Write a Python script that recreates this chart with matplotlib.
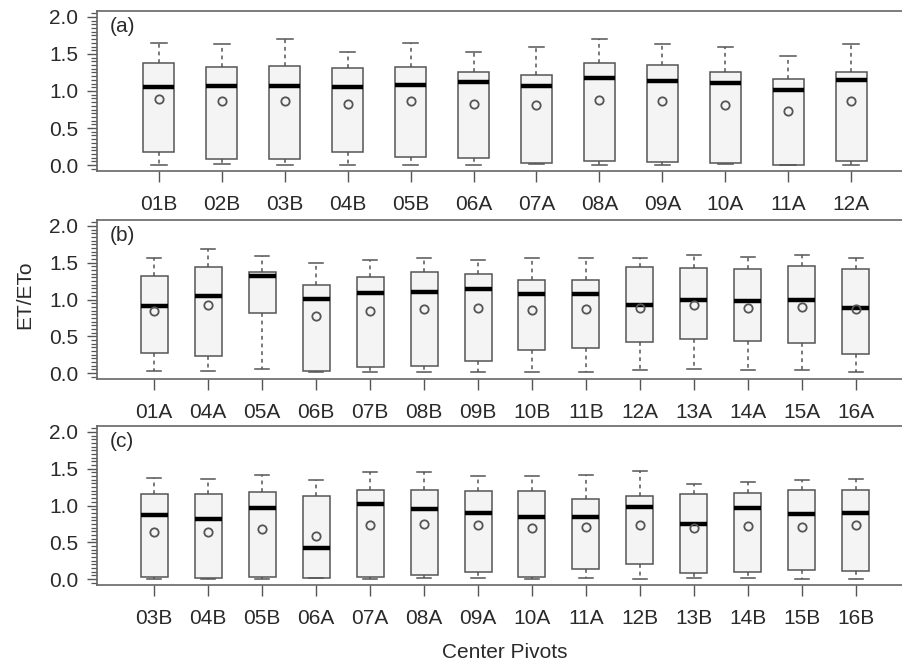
import numpy as np
import matplotlib
matplotlib.use("Agg")
import matplotlib.pyplot as plt
from matplotlib.ticker import MultipleLocator

plt.rcParams["font.family"] = ["Liberation Sans", "DejaVu Sans"]

# Panel (a)
labels_a = ["01B", "02B", "03B", "04B", "05B", "06A", "07A", "08A", "09A", "10A", "11A", "12A"]
lo_a = [0.00, 0.01, 0.00, 0.00, 0.00, 0.00, 0.01, 0.00, 0.00, 0.01, 0.00, 0.00]
q1_a = [0.17, 0.08, 0.08, 0.18, 0.11, 0.10, 0.03, 0.06, 0.04, 0.03, 0.00, 0.06]
med_a = [1.05, 1.07, 1.07, 1.06, 1.08, 1.12, 1.07, 1.17, 1.14, 1.11, 1.01, 1.15]
q3_a = [1.38, 1.33, 1.34, 1.31, 1.33, 1.26, 1.22, 1.38, 1.35, 1.25, 1.16, 1.25]
hi_a = [1.65, 1.63, 1.70, 1.52, 1.65, 1.52, 1.60, 1.70, 1.64, 1.59, 1.47, 1.64]
mean_a = [0.89, 0.87, 0.87, 0.83, 0.87, 0.82, 0.81, 0.88, 0.87, 0.81, 0.73, 0.86]

# Panel (b)
labels_b = ["01A", "04A", "05A", "06B", "07B", "08B", "09B", "10B", "11B",
            "12A", "13A", "14A", "15A", "16A"]
lo_b = [0.03, 0.03, 0.06, 0.01, 0.01, 0.01, 0.01, 0.01, 0.01, 0.04, 0.05, 0.04, 0.04, 0.01]
q1_b = [0.28, 0.23, 0.82, 0.03, 0.08, 0.10, 0.16, 0.32, 0.34, 0.42, 0.46, 0.44, 0.41, 0.26]
med_b = [0.91, 1.05, 1.32, 1.01, 1.09, 1.10, 1.14, 1.07, 1.08, 0.92, 1.00, 0.98, 1.00, 0.89]
q3_b = [1.32, 1.44, 1.38, 1.20, 1.30, 1.37, 1.35, 1.26, 1.27, 1.44, 1.43, 1.42, 1.46, 1.42]
hi_b = [1.56, 1.69, 1.59, 1.49, 1.54, 1.56, 1.54, 1.56, 1.56, 1.57, 1.61, 1.58, 1.60, 1.56]
mean_b = [0.84, 0.93, np.nan, 0.78, 0.85, 0.87, 0.88, 0.86, 0.87, 0.88, 0.92, 0.88, 0.90, 0.87]

# Panel (c)
labels_c = ["03B", "04B", "05B", "06A", "07A", "08A", "09A", "10A", "11A",
            "12B", "13B", "14B", "15B", "16B"]
lo_c = [0.00, 0.00, 0.00, 0.01, 0.00, 0.01, 0.01, 0.00, 0.01, 0.00, 0.01, 0.01, 0.00, 0.00]
q1_c = [0.03, 0.02, 0.03, 0.02, 0.03, 0.05, 0.09, 0.03, 0.14, 0.21, 0.08, 0.10, 0.12, 0.11]
med_c = [0.87, 0.82, 0.97, 0.42, 1.02, 0.95, 0.90, 0.84, 0.84, 0.98, 0.75, 0.96, 0.88, 0.90]
q3_c = [1.16, 1.15, 1.18, 1.13, 1.21, 1.21, 1.20, 1.20, 1.09, 1.13, 1.16, 1.17, 1.21, 1.21]
hi_c = [1.38, 1.36, 1.41, 1.34, 1.45, 1.45, 1.40, 1.40, 1.41, 1.47, 1.29, 1.32, 1.34, 1.36]
mean_c = [0.64, 0.64, 0.68, 0.58, 0.74, 0.75, 0.74, 0.69, 0.71, 0.74, 0.69, 0.72, 0.71, 0.74]

panels = [
    ("(a)", labels_a, lo_a, q1_a, med_a, q3_a, hi_a, mean_a),
    ("(b)", labels_b, lo_b, q1_b, med_b, q3_b, hi_b, mean_b),
    ("(c)", labels_c, lo_c, q1_c, med_c, q3_c, hi_c, mean_c),
]

W, H = 903, 664
fig = plt.figure(figsize=(W / 100, H / 100), dpi=100)

# axes rectangles in pixels: (top, bottom); right edge runs past the figure
rows = [(11, 171), (220, 379), (426, 585)]
left_px, right_px = 97, 913

fs = 15
txt = "#2a2a2a"
grey = "#555555"
for (tag, labels, lo, q1, med, q3, hi, mean), (top, bot) in zip(panels, rows):
    ax = fig.add_axes([left_px / W, 1 - bot / H, (right_px - left_px) / W, (bot - top) / H])
    stats = []
    for i in range(len(labels)):
        stats.append(dict(label=labels[i], whislo=lo[i], q1=q1[i], med=med[i],
                          q3=q3[i], whishi=hi[i], mean=mean[i]))
    n = len(labels)
    ax.bxp(stats, positions=np.arange(1, n + 1), widths=0.5, capwidths=0.25,
           showmeans=True, showfliers=False, patch_artist=True,
           boxprops=dict(facecolor="#f4f4f4", edgecolor=grey, linewidth=1.1),
           whiskerprops=dict(color=grey, linewidth=1.1, linestyle=(0, (2.5, 2.5))),
           capprops=dict(color=grey, linewidth=1.1),
           medianprops=dict(color="black", linewidth=3.2, solid_capstyle="butt"),
           meanprops=dict(marker="o", markersize=6, markerfacecolor="none",
                          markeredgecolor=grey, markeredgewidth=1.3))
    ax.set_xlim(0.5 - 0.04 * n, n + 0.5 + 0.04 * n)
    ax.set_ylim(-0.08, 2.08)
    ax.yaxis.set_major_locator(MultipleLocator(0.5))
    ax.yaxis.set_minor_locator(MultipleLocator(0.05))
    ax.set_yticklabels([f"{v:.1f}" for v in ax.get_yticks()])
    ax.set_xticks(np.arange(1, n + 1))
    ax.set_xticklabels(labels)
    for s in ax.spines.values():
        s.set_color("#666666")
        s.set_linewidth(1.2)
    ax.tick_params(axis="y", which="major", length=7.5, width=1.0, color=grey,
                   labelsize=fs, pad=6, labelcolor=txt)
    ax.tick_params(axis="y", which="minor", length=4.3, width=0.9, color=grey)
    ax.tick_params(axis="x", length=8, width=1.0, color=grey,
                   labelsize=fs, pad=9, labelcolor=txt)
    ax.text(0.016, 0.9, tag, transform=ax.transAxes, fontsize=fs,
            color=txt, ha="left", va="center")

fig.text(25 / W, 1 - 295 / H, "ET/ETo", rotation=90, ha="center", va="center",
         fontsize=fs, color=txt)
fig.text(505 / W, 1 - 652 / H, "Center Pivots", ha="center", va="center",
         fontsize=fs, color=txt)

fig.savefig("out.png", dpi=100)
